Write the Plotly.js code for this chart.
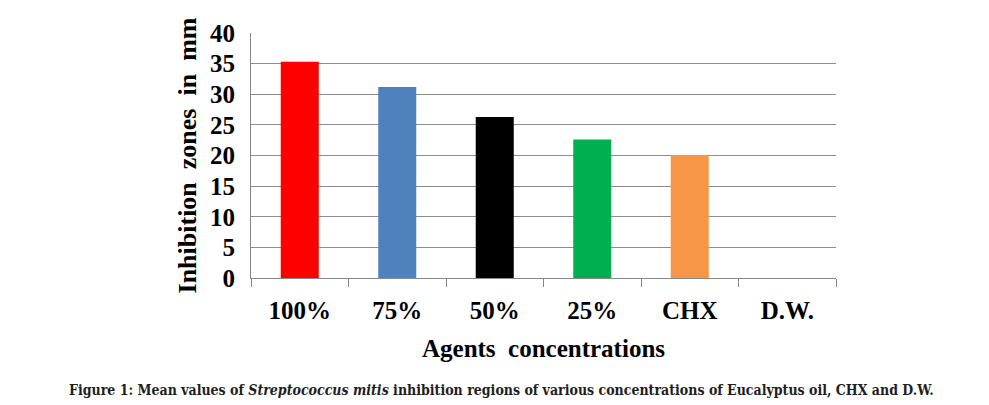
<!DOCTYPE html>
<html>
<head>
<meta charset="utf-8">
<script src="https://cdn.plot.ly/plotly-3.0.1.min.js"></script>
<style>html,body{margin:0;padding:0;background:#fff;}#chart{width:989px;height:405px;}</style>
</head>
<body>
<div id="chart"></div>
<script>
const categories = ["100%", "75%", "50%", "25%", "CHX", "D.W."];
const values = [35.3, 31.2, 26.3, 22.6, 20.1, 0];
const barColors = ["#ff0000", "#4f81bd", "#000000", "#00b050", "#f79646", "#ffffff"];
const yTicks = [0, 5, 10, 15, 20, 25, 30, 35, 40];

const serif = "Liberation Serif, Times New Roman, serif";

const data = [{
  type: "bar",
  x: categories,
  y: values,
  marker: {color: barColors, line: {width: 0}},
  hoverinfo: "x+y"
}];

const layout = {
  width: 989,
  height: 405,
  margin: {l: 251, r: 153, t: 33, b: 127},
  paper_bgcolor: "#ffffff",
  plot_bgcolor: "#ffffff",
  bargap: 0.61,
  showlegend: false,
  xaxis: {
    type: "category",
    tickson: "boundaries",
    ticks: "outside",
    ticklen: 8,
    tickcolor: "#888888",
    showline: true,
    linecolor: "#888888",
    linewidth: 1,
    showgrid: false,
    ticklabelstandoff: 10,
    tickfont: {family: serif, size: 25, color: "#000", weight: "bold"},
    title: {text: "Agents&nbsp;&nbsp;concentrations", font: {family: serif, size: 25, color: "#000", weight: "bold"}, standoff: 16}
  },
  yaxis: {
    range: [0, 40],
    tickvals: yTicks,
    ticktext: yTicks.map(String),
    showgrid: true,
    gridcolor: "#8c8c8c",
    gridwidth: 1,
    showline: true,
    linecolor: "#888888",
    zeroline: false,
    ticks: "",
    ticklabelstandoff: 10,
    tickfont: {family: serif, size: 25, color: "#000", weight: "bold"},
    title: {text: "Inhibition&nbsp;&nbsp;zones&nbsp;&nbsp;in&nbsp;&nbsp;mm", font: {family: serif, size: 26, color: "#000", weight: "bold"}, standoff: 5}
  },
  annotations: [{
    xref: "paper", yref: "paper",
    x: 0.429, y: -0.457,
    xanchor: "center", yanchor: "middle",
    showarrow: false,
    text: "Figure 1: Mean values of <i>Streptococcus mitis</i> inhibition regions of various concentrations of Eucalyptus oil, CHX and D.W.",
    font: {family: "DejaVu Serif Condensed, DejaVu Serif, serif", size: 14, color: "#1e1e1e", weight: "bold"}
  }]
};

Plotly.newPlot("chart", data, layout, {displayModeBar: false, staticPlot: true});
</script>
</body>
</html>
